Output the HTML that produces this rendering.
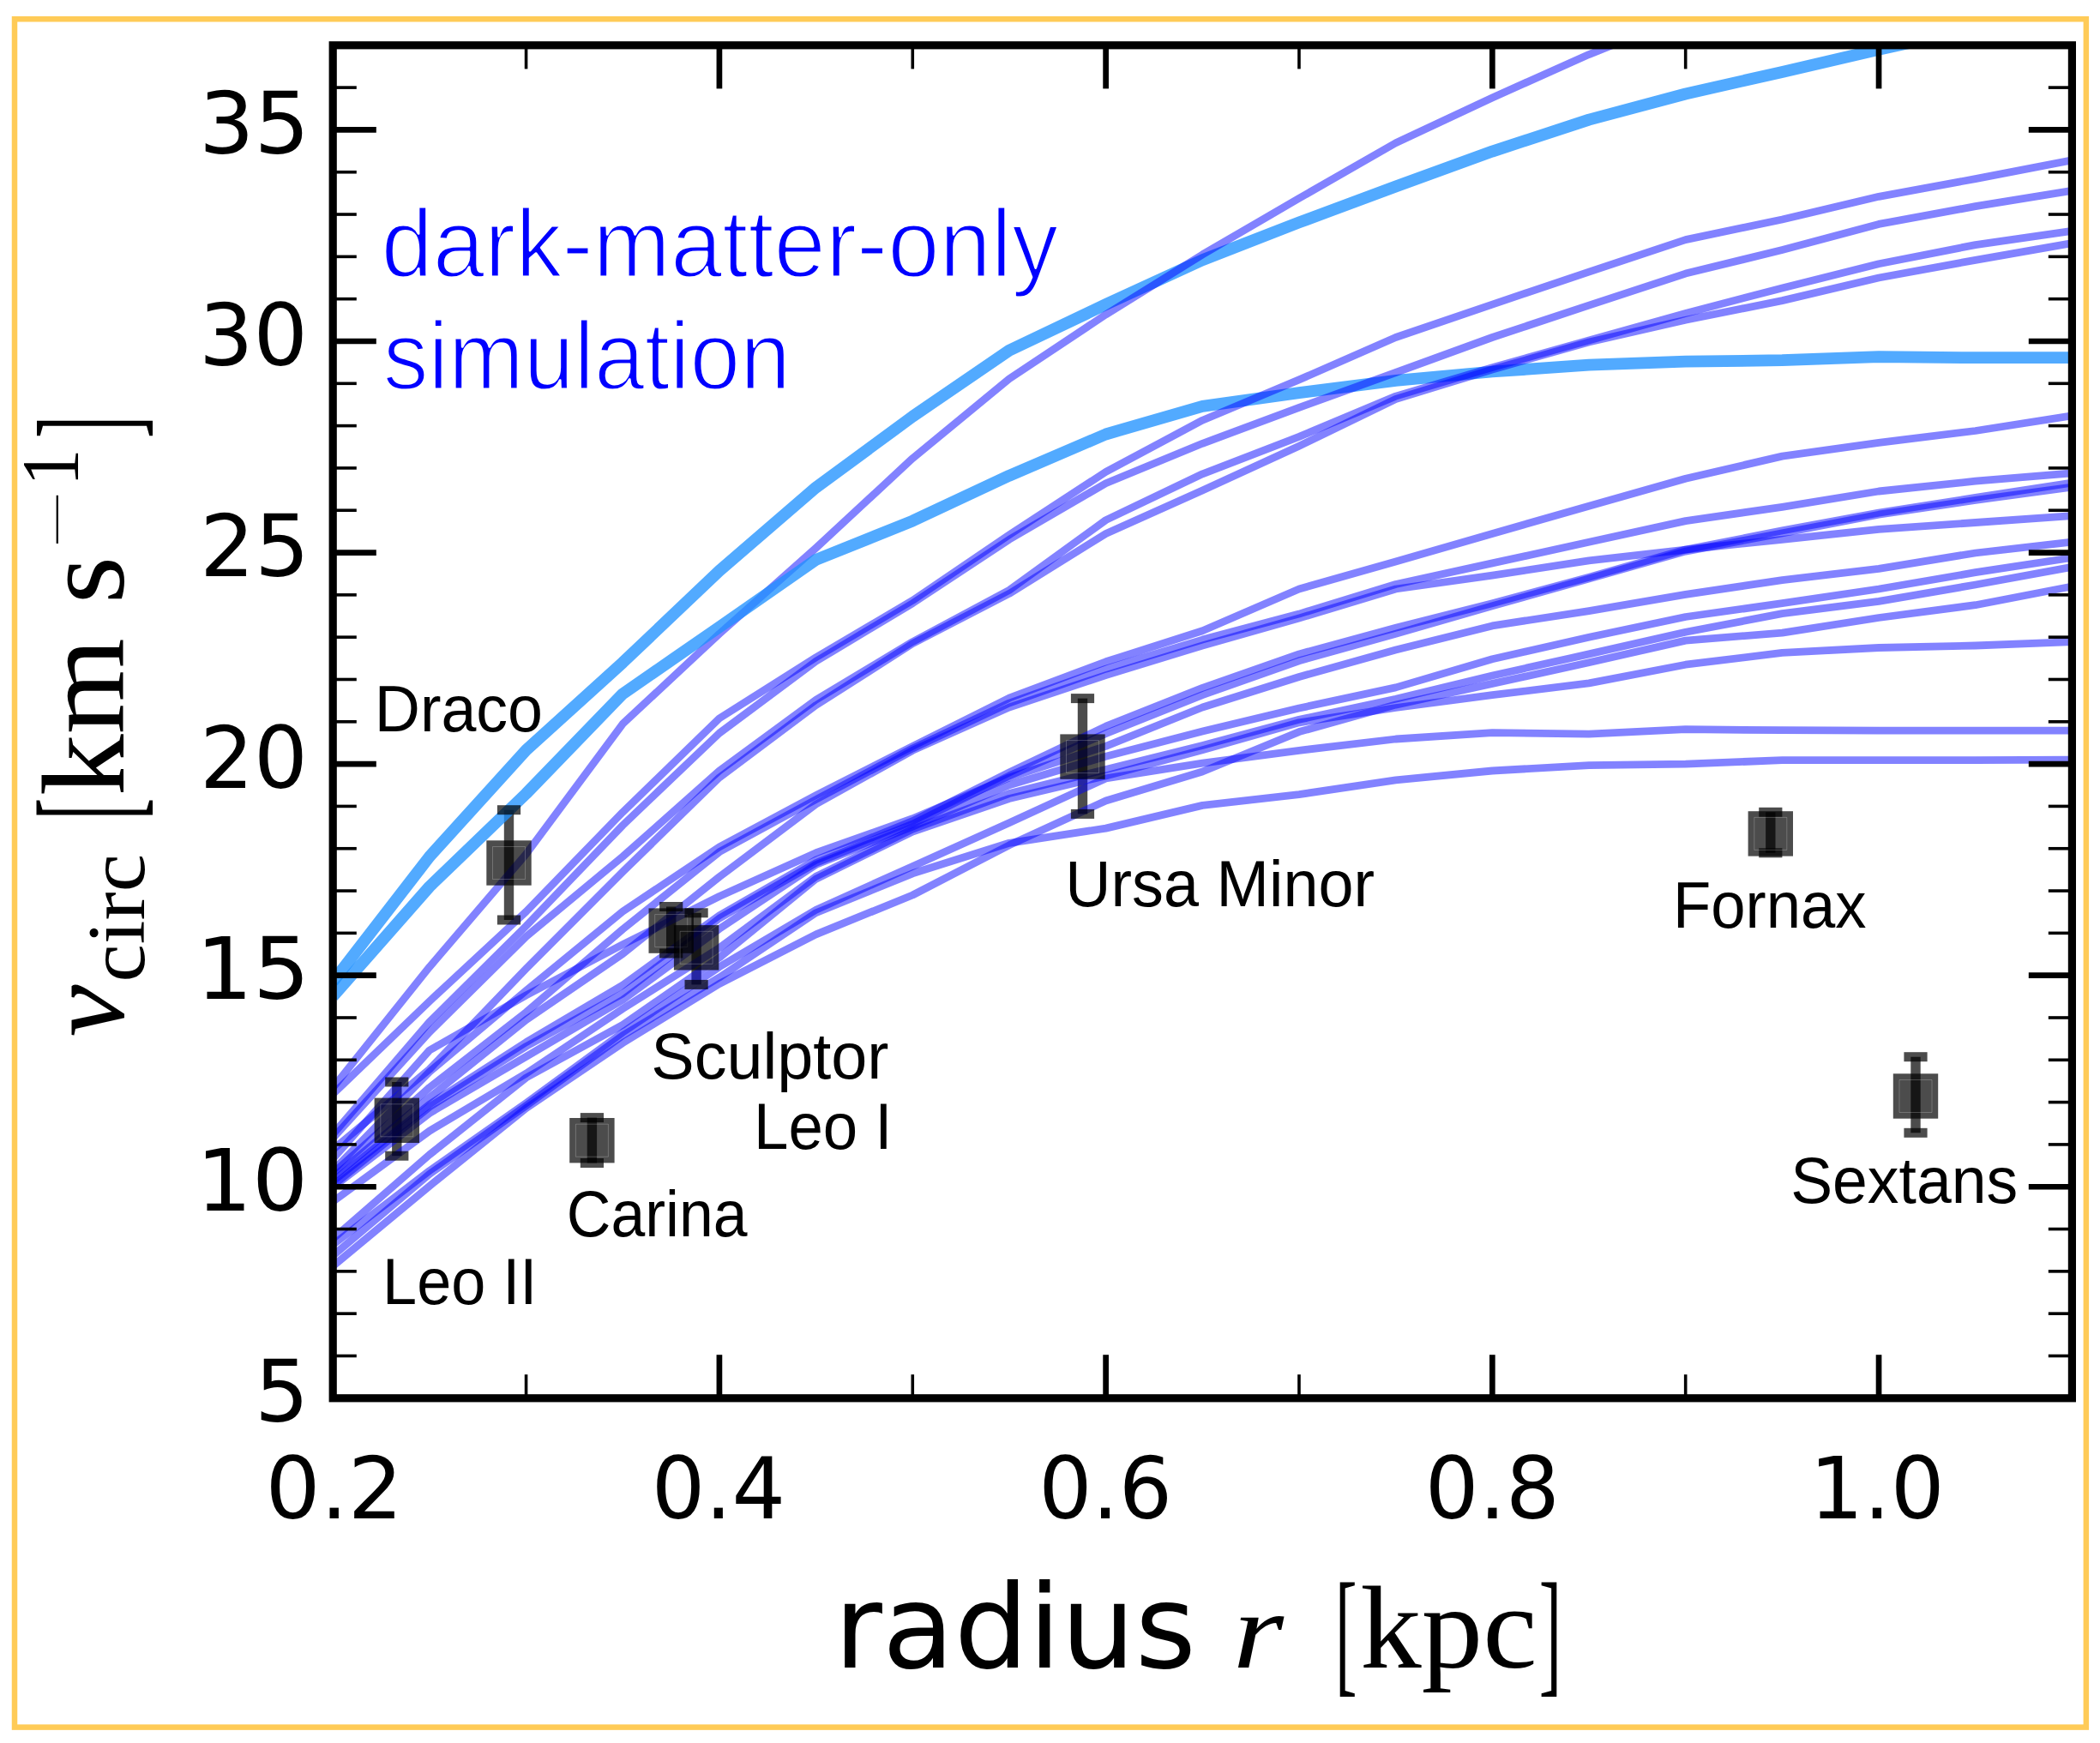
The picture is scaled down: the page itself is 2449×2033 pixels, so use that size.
<!DOCTYPE html>
<html lang="en"><head><meta charset="utf-8"><title>dark-matter-only simulation: circular velocity profiles</title>
<style>html,body{margin:0;padding:0;background:#fff}body{width:2449px;height:2033px;overflow:hidden}svg{display:block}</style></head><body>
<svg width="2449" height="2033" viewBox="0 0 2449 2033">
<rect x="0" y="0" width="2449" height="2033" fill="#fff"/>
<rect x="17.0" y="22.25" width="2415.85" height="1992.35" fill="none" stroke="#ffcb57" stroke-width="6.5"/>
<defs><clipPath id="ax"><rect x="388.2" y="52.8" width="2028.2" height="1578.0"/></clipPath></defs>
<g clip-path="url(#ax)" fill="none" stroke-linejoin="round" stroke-linecap="butt">
<g stroke="none" fill="#000" fill-opacity="0.7">
<rect x="587.8" y="944.7" width="11.4" height="128.3"/>
<rect x="457.1" y="1262.0" width="11.4" height="86.2"/>
<rect x="684.7" y="1303.6" width="11.4" height="52.9"/>
<rect x="777.0" y="1057.5" width="11.4" height="54.5"/>
<rect x="806.4" y="1064.8" width="11.4" height="83.6"/>
<rect x="1256.8" y="814.6" width="11.4" height="134.8"/>
<rect x="2059.1" y="947.3" width="11.4" height="47.5"/>
<rect x="2228.3" y="1232.7" width="11.4" height="88.6"/>
</g>
<path d="M388.2,1145.1 L500.9,999.1 L613.6,874.8 L726.2,772.8 L838.9,665.8 L951.6,568.6 L1064.3,485.8 L1176.9,408.8 L1289.6,355.1 L1402.3,303.3 L1515.0,259.4 L1627.7,217.5 L1740.3,176.6 L1853.0,139.6 L1965.7,109.5 L2078.4,83.9 L2191.0,57.7 L2303.7,33.1 L2416.4,8.4" stroke="#1e90ff" stroke-opacity="0.77" stroke-width="13.8"/>
<path d="M388.2,1268.8 L500.9,1127.8 L613.6,996.1 L726.2,844.3 L838.9,739.2 L951.6,639.1 L1064.3,534.6 L1176.9,441.9 L1289.6,366.9 L1402.3,296.9 L1515.0,231.3 L1627.7,166.7 L1740.3,113.9 L1853.0,63.6 L1965.7,18.3 L2078.4,-21.2 L2191.0,-55.7 L2303.7,-90.2 L2416.4,-119.8" stroke="#0000ff" stroke-opacity="0.49" stroke-width="8.8"/>
<path d="M388.2,1162.3 L500.9,1034.1 L613.6,925.6 L726.2,809.3 L838.9,731.3 L951.6,652.9 L1064.3,607.6 L1176.9,554.8 L1289.6,506.5 L1402.3,473.9 L1515.0,458.1 L1627.7,443.8 L1740.3,433.5 L1853.0,425.6 L1965.7,421.7 L2078.4,420.2 L2191.0,416.2 L2303.7,417.2 L2416.4,417.2" stroke="#1e90ff" stroke-opacity="0.77" stroke-width="13.8"/>
<path d="M388.2,1276.2 L500.9,1167.8 L613.6,1063.2 L726.2,947.3 L838.9,837.9 L951.6,766.8 L1064.3,700.3 L1176.9,623.8 L1289.6,550.4 L1402.3,490.2 L1515.0,442.9 L1627.7,393.5 L1740.3,355.1 L1853.0,317.1 L1965.7,279.6 L2078.4,256.0 L2191.0,229.3 L2303.7,208.6 L2416.4,186.9" stroke="#0000ff" stroke-opacity="0.49" stroke-width="8.8"/>
<path d="M388.2,1323.1 L500.9,1191.9 L613.6,1080.0 L726.2,962.6 L838.9,855.1 L951.6,771.3 L1064.3,703.7 L1176.9,629.3 L1289.6,563.7 L1402.3,517.3 L1515.0,475.4 L1627.7,434.5 L1740.3,393.5 L1853.0,356.1 L1965.7,319.1 L2078.4,291.5 L2191.0,261.4 L2303.7,240.7 L2416.4,222.4" stroke="#0000ff" stroke-opacity="0.49" stroke-width="8.8"/>
<path d="M388.2,1327.5 L500.9,1203.8 L613.6,1092.3 L726.2,999.1 L838.9,899.0 L951.6,816.2 L1064.3,748.6 L1176.9,688.4 L1289.6,606.6 L1402.3,552.8 L1515.0,509.4 L1627.7,462.1 L1740.3,428.6 L1853.0,397.0 L1965.7,365.4 L2078.4,335.9 L2191.0,307.7 L2303.7,285.6 L2416.4,269.3" stroke="#0000ff" stroke-opacity="0.49" stroke-width="8.8"/>
<path d="M388.2,1340.8 L500.9,1247.1 L613.6,1129.8 L726.2,1016.9 L838.9,906.9 L951.6,822.6 L1064.3,750.6 L1176.9,692.4 L1289.6,622.4 L1402.3,572.1 L1515.0,520.3 L1627.7,465.5 L1740.3,431.0 L1853.0,399.0 L1965.7,373.3 L2078.4,350.6 L2191.0,324.0 L2303.7,303.3 L2416.4,283.6" stroke="#0000ff" stroke-opacity="0.49" stroke-width="8.8"/>
<path d="M388.2,1365.5 L500.9,1250.1 L613.6,1155.4 L726.2,1063.2 L838.9,987.8 L951.6,927.6 L1064.3,870.4 L1176.9,814.2 L1289.6,771.8 L1402.3,735.8 L1515.0,687.0 L1627.7,654.9 L1740.3,622.4 L1853.0,590.3 L1965.7,558.3 L2078.4,532.1 L2191.0,516.3 L2303.7,502.5 L2416.4,484.8" stroke="#0000ff" stroke-opacity="0.49" stroke-width="8.8"/>
<path d="M388.2,1368.5 L500.9,1268.4 L613.6,1180.6 L726.2,1083.9 L838.9,993.7 L951.6,932.5 L1064.3,872.9 L1176.9,820.1 L1289.6,780.2 L1402.3,746.1 L1515.0,716.1 L1627.7,681.5 L1740.3,656.9 L1853.0,632.2 L1965.7,607.6 L2078.4,591.3 L2191.0,573.0 L2303.7,561.2 L2416.4,551.8" stroke="#0000ff" stroke-opacity="0.49" stroke-width="8.8"/>
<path d="M388.2,1377.8 L500.9,1288.1 L613.6,1215.6 L726.2,1149.0 L838.9,1067.7 L951.6,1003.1 L1064.3,957.7 L1176.9,901.0 L1289.6,847.2 L1402.3,802.3 L1515.0,762.9 L1627.7,732.3 L1740.3,703.7 L1853.0,673.2 L1965.7,641.1 L2078.4,618.9 L2191.0,598.2 L2303.7,580.4 L2416.4,563.2" stroke="#0000ff" stroke-opacity="0.49" stroke-width="8.8"/>
<path d="M388.2,1382.8 L500.9,1291.0 L613.6,1220.5 L726.2,1158.9 L838.9,1071.1 L951.6,1006.5 L1064.3,961.1 L1176.9,904.9 L1289.6,855.6 L1402.3,810.7 L1515.0,770.8 L1627.7,739.2 L1740.3,706.7 L1853.0,675.1 L1965.7,643.1 L2078.4,621.9 L2191.0,600.2 L2303.7,583.4 L2416.4,568.1" stroke="#0000ff" stroke-opacity="0.49" stroke-width="8.8"/>
<path d="M388.2,1373.4 L500.9,1280.2 L613.6,1189.5 L726.2,1112.5 L838.9,1022.8 L951.6,938.0 L1064.3,875.3 L1176.9,825.0 L1289.6,787.6 L1402.3,753.0 L1515.0,721.0 L1627.7,687.0 L1740.3,671.2 L1853.0,653.9 L1965.7,641.1 L2078.4,629.3 L2191.0,617.4 L2303.7,609.5 L2416.4,601.6" stroke="#0000ff" stroke-opacity="0.49" stroke-width="8.8"/>
<path d="M388.2,1351.7 L500.9,1225.0 L613.6,1160.9 L726.2,1101.7 L838.9,1045.5 L951.6,994.7 L1064.3,954.7 L1176.9,906.9 L1289.6,870.4 L1402.3,825.0 L1515.0,789.5 L1627.7,758.0 L1740.3,729.9 L1853.0,712.6 L1965.7,693.4 L2078.4,676.6 L2191.0,663.3 L2303.7,645.0 L2416.4,632.2" stroke="#0000ff" stroke-opacity="0.49" stroke-width="8.8"/>
<path d="M388.2,1384.7 L500.9,1298.4 L613.6,1232.4 L726.2,1166.3 L838.9,1083.4 L951.6,1008.5 L1064.3,964.1 L1176.9,915.8 L1289.6,882.2 L1402.3,853.1 L1515.0,826.0 L1627.7,801.9 L1740.3,768.8 L1853.0,743.2 L1965.7,719.5 L2078.4,703.7 L2191.0,687.0 L2303.7,667.7 L2416.4,650.5" stroke="#0000ff" stroke-opacity="0.49" stroke-width="8.8"/>
<path d="M388.2,1401.5 L500.9,1319.1 L613.6,1252.1 L726.2,1176.6 L838.9,1105.6 L951.6,1022.3 L1064.3,967.1 L1176.9,925.6 L1289.6,897.5 L1402.3,869.4 L1515.0,839.3 L1627.7,815.2 L1740.3,788.0 L1853.0,762.9 L1965.7,737.3 L2078.4,715.6 L2191.0,701.3 L2303.7,682.0 L2416.4,661.3" stroke="#0000ff" stroke-opacity="0.49" stroke-width="8.8"/>
<path d="M388.2,1476.9 L500.9,1383.3 L613.6,1292.5 L726.2,1216.6 L838.9,1147.5 L951.6,1089.8 L1064.3,1044.0 L1176.9,985.8 L1289.6,934.0 L1402.3,900.0 L1515.0,853.6 L1627.7,822.1 L1740.3,797.4 L1853.0,772.8 L1965.7,747.1 L2078.4,738.2 L2191.0,720.5 L2303.7,705.7 L2416.4,684.0" stroke="#0000ff" stroke-opacity="0.49" stroke-width="8.8"/>
<path d="M388.2,1444.9 L500.9,1346.8 L613.6,1257.0 L726.2,1195.4 L838.9,1117.0 L951.6,1025.2 L1064.3,970.0 L1176.9,931.5 L1289.6,904.9 L1402.3,874.8 L1515.0,842.8 L1627.7,825.5 L1740.3,810.7 L1853.0,796.9 L1965.7,775.2 L2078.4,761.4 L2191.0,755.5 L2303.7,753.0 L2416.4,748.6" stroke="#0000ff" stroke-opacity="0.49" stroke-width="8.8"/>
<path d="M388.2,1451.8 L500.9,1365.5 L613.6,1286.6 L726.2,1204.2 L838.9,1127.8 L951.6,1061.2 L1064.3,1010.4 L1176.9,959.7 L1289.6,907.9 L1402.3,890.1 L1515.0,875.3 L1627.7,862.0 L1740.3,854.6 L1853.0,856.1 L1965.7,850.7 L2078.4,851.7 L2191.0,852.2 L2303.7,852.2 L2416.4,852.2" stroke="#0000ff" stroke-opacity="0.49" stroke-width="8.8"/>
<path d="M388.2,1464.6 L500.9,1369.4 L613.6,1289.6 L726.2,1207.7 L838.9,1140.1 L951.6,1064.7 L1064.3,1018.8 L1176.9,983.3 L1289.6,966.1 L1402.3,939.4 L1515.0,926.6 L1627.7,909.9 L1740.3,899.0 L1853.0,892.6 L1965.7,891.1 L2078.4,886.7 L2191.0,886.7 L2303.7,886.7 L2416.4,886.2" stroke="#0000ff" stroke-opacity="0.49" stroke-width="8.8"/>
<g stroke="none" fill="#000" fill-opacity="0.7">
<rect x="579.9" y="939.2" width="27.2" height="11"/>
<rect x="579.9" y="1067.5" width="27.2" height="11"/>
<rect x="567.3" y="980.3" width="52.4" height="52.4"/>
<rect x="574.5" y="987.5" width="38" height="38" fill="none" stroke="#fff" stroke-opacity="0.28" stroke-width="0.8"/>
</g>
<g stroke="none" fill="#000" fill-opacity="0.7">
<rect x="449.2" y="1256.5" width="27.2" height="11"/>
<rect x="449.2" y="1342.7" width="27.2" height="11"/>
<rect x="436.6" y="1280.6" width="52.4" height="52.4"/>
<rect x="443.8" y="1287.8" width="38" height="38" fill="none" stroke="#fff" stroke-opacity="0.28" stroke-width="0.8"/>
</g>
<g stroke="none" fill="#000" fill-opacity="0.7">
<rect x="676.8" y="1298.1" width="27.2" height="11"/>
<rect x="676.8" y="1351.0" width="27.2" height="11"/>
<rect x="664.2" y="1304.0" width="52.4" height="52.4"/>
<rect x="671.4" y="1311.2" width="38" height="38" fill="none" stroke="#fff" stroke-opacity="0.28" stroke-width="0.8"/>
</g>
<g stroke="none" fill="#000" fill-opacity="0.7">
<rect x="769.1" y="1052.0" width="27.2" height="11"/>
<rect x="769.1" y="1106.5" width="27.2" height="11"/>
<rect x="756.5" y="1059.4" width="52.4" height="52.4"/>
<rect x="763.7" y="1066.6" width="38" height="38" fill="none" stroke="#fff" stroke-opacity="0.28" stroke-width="0.8"/>
</g>
<g stroke="none" fill="#000" fill-opacity="0.7">
<rect x="798.5" y="1059.3" width="27.2" height="11"/>
<rect x="798.5" y="1142.9" width="27.2" height="11"/>
<rect x="785.9" y="1079.1" width="52.4" height="52.4"/>
<rect x="793.1" y="1086.3" width="38" height="38" fill="none" stroke="#fff" stroke-opacity="0.28" stroke-width="0.8"/>
</g>
<g stroke="none" fill="#000" fill-opacity="0.7">
<rect x="1248.9" y="809.1" width="27.2" height="11"/>
<rect x="1248.9" y="943.9" width="27.2" height="11"/>
<rect x="1236.3" y="856.4" width="52.4" height="52.4"/>
<rect x="1243.5" y="863.6" width="38" height="38" fill="none" stroke="#fff" stroke-opacity="0.28" stroke-width="0.8"/>
</g>
<g stroke="none" fill="#000" fill-opacity="0.7">
<rect x="2051.2" y="941.8" width="27.2" height="11"/>
<rect x="2051.2" y="989.3" width="27.2" height="11"/>
<rect x="2038.6" y="946.2" width="52.4" height="52.4"/>
<rect x="2045.8" y="953.4" width="38" height="38" fill="none" stroke="#fff" stroke-opacity="0.28" stroke-width="0.8"/>
</g>
<g stroke="none" fill="#000" fill-opacity="0.7">
<rect x="2220.4" y="1227.2" width="27.2" height="11"/>
<rect x="2220.4" y="1315.8" width="27.2" height="11"/>
<rect x="2207.8" y="1252.3" width="52.4" height="52.4"/>
<rect x="2215.0" y="1259.5" width="38" height="38" fill="none" stroke="#fff" stroke-opacity="0.28" stroke-width="0.8"/>
</g>
</g>
<g stroke="#000" stroke-linecap="butt">
<line x1="388.2" y1="1581.49" x2="415.8" y2="1581.49" stroke-width="3.6"/>
<line x1="2416.4" y1="1581.49" x2="2388.8" y2="1581.49" stroke-width="3.6"/>
<line x1="388.2" y1="1532.17" x2="415.8" y2="1532.17" stroke-width="3.6"/>
<line x1="2416.4" y1="1532.17" x2="2388.8" y2="1532.17" stroke-width="3.6"/>
<line x1="388.2" y1="1482.86" x2="415.8" y2="1482.86" stroke-width="3.6"/>
<line x1="2416.4" y1="1482.86" x2="2388.8" y2="1482.86" stroke-width="3.6"/>
<line x1="388.2" y1="1433.55" x2="415.8" y2="1433.55" stroke-width="3.6"/>
<line x1="2416.4" y1="1433.55" x2="2388.8" y2="1433.55" stroke-width="3.6"/>
<line x1="388.2" y1="1384.24" x2="438.8" y2="1384.24" stroke-width="6.7"/>
<line x1="2416.4" y1="1384.24" x2="2365.8" y2="1384.24" stroke-width="6.7"/>
<line x1="388.2" y1="1334.92" x2="415.8" y2="1334.92" stroke-width="3.6"/>
<line x1="2416.4" y1="1334.92" x2="2388.8" y2="1334.92" stroke-width="3.6"/>
<line x1="388.2" y1="1285.61" x2="415.8" y2="1285.61" stroke-width="3.6"/>
<line x1="2416.4" y1="1285.61" x2="2388.8" y2="1285.61" stroke-width="3.6"/>
<line x1="388.2" y1="1236.30" x2="415.8" y2="1236.30" stroke-width="3.6"/>
<line x1="2416.4" y1="1236.30" x2="2388.8" y2="1236.30" stroke-width="3.6"/>
<line x1="388.2" y1="1186.99" x2="415.8" y2="1186.99" stroke-width="3.6"/>
<line x1="2416.4" y1="1186.99" x2="2388.8" y2="1186.99" stroke-width="3.6"/>
<line x1="388.2" y1="1137.67" x2="438.8" y2="1137.67" stroke-width="6.7"/>
<line x1="2416.4" y1="1137.67" x2="2365.8" y2="1137.67" stroke-width="6.7"/>
<line x1="388.2" y1="1088.36" x2="415.8" y2="1088.36" stroke-width="3.6"/>
<line x1="2416.4" y1="1088.36" x2="2388.8" y2="1088.36" stroke-width="3.6"/>
<line x1="388.2" y1="1039.05" x2="415.8" y2="1039.05" stroke-width="3.6"/>
<line x1="2416.4" y1="1039.05" x2="2388.8" y2="1039.05" stroke-width="3.6"/>
<line x1="388.2" y1="989.74" x2="415.8" y2="989.74" stroke-width="3.6"/>
<line x1="2416.4" y1="989.74" x2="2388.8" y2="989.74" stroke-width="3.6"/>
<line x1="388.2" y1="940.42" x2="415.8" y2="940.42" stroke-width="3.6"/>
<line x1="2416.4" y1="940.42" x2="2388.8" y2="940.42" stroke-width="3.6"/>
<line x1="388.2" y1="891.11" x2="438.8" y2="891.11" stroke-width="6.7"/>
<line x1="2416.4" y1="891.11" x2="2365.8" y2="891.11" stroke-width="6.7"/>
<line x1="388.2" y1="841.80" x2="415.8" y2="841.80" stroke-width="3.6"/>
<line x1="2416.4" y1="841.80" x2="2388.8" y2="841.80" stroke-width="3.6"/>
<line x1="388.2" y1="792.49" x2="415.8" y2="792.49" stroke-width="3.6"/>
<line x1="2416.4" y1="792.49" x2="2388.8" y2="792.49" stroke-width="3.6"/>
<line x1="388.2" y1="743.17" x2="415.8" y2="743.17" stroke-width="3.6"/>
<line x1="2416.4" y1="743.17" x2="2388.8" y2="743.17" stroke-width="3.6"/>
<line x1="388.2" y1="693.86" x2="415.8" y2="693.86" stroke-width="3.6"/>
<line x1="2416.4" y1="693.86" x2="2388.8" y2="693.86" stroke-width="3.6"/>
<line x1="388.2" y1="644.55" x2="438.8" y2="644.55" stroke-width="6.7"/>
<line x1="2416.4" y1="644.55" x2="2365.8" y2="644.55" stroke-width="6.7"/>
<line x1="388.2" y1="595.24" x2="415.8" y2="595.24" stroke-width="3.6"/>
<line x1="2416.4" y1="595.24" x2="2388.8" y2="595.24" stroke-width="3.6"/>
<line x1="388.2" y1="545.92" x2="415.8" y2="545.92" stroke-width="3.6"/>
<line x1="2416.4" y1="545.92" x2="2388.8" y2="545.92" stroke-width="3.6"/>
<line x1="388.2" y1="496.61" x2="415.8" y2="496.61" stroke-width="3.6"/>
<line x1="2416.4" y1="496.61" x2="2388.8" y2="496.61" stroke-width="3.6"/>
<line x1="388.2" y1="447.30" x2="415.8" y2="447.30" stroke-width="3.6"/>
<line x1="2416.4" y1="447.30" x2="2388.8" y2="447.30" stroke-width="3.6"/>
<line x1="388.2" y1="397.99" x2="438.8" y2="397.99" stroke-width="6.7"/>
<line x1="2416.4" y1="397.99" x2="2365.8" y2="397.99" stroke-width="6.7"/>
<line x1="388.2" y1="348.68" x2="415.8" y2="348.68" stroke-width="3.6"/>
<line x1="2416.4" y1="348.68" x2="2388.8" y2="348.68" stroke-width="3.6"/>
<line x1="388.2" y1="299.36" x2="415.8" y2="299.36" stroke-width="3.6"/>
<line x1="2416.4" y1="299.36" x2="2388.8" y2="299.36" stroke-width="3.6"/>
<line x1="388.2" y1="250.05" x2="415.8" y2="250.05" stroke-width="3.6"/>
<line x1="2416.4" y1="250.05" x2="2388.8" y2="250.05" stroke-width="3.6"/>
<line x1="388.2" y1="200.74" x2="415.8" y2="200.74" stroke-width="3.6"/>
<line x1="2416.4" y1="200.74" x2="2388.8" y2="200.74" stroke-width="3.6"/>
<line x1="388.2" y1="151.43" x2="438.8" y2="151.43" stroke-width="6.7"/>
<line x1="2416.4" y1="151.43" x2="2365.8" y2="151.43" stroke-width="6.7"/>
<line x1="388.2" y1="102.11" x2="415.8" y2="102.11" stroke-width="3.6"/>
<line x1="2416.4" y1="102.11" x2="2388.8" y2="102.11" stroke-width="3.6"/>
<line x1="613.56" y1="1630.8" x2="613.56" y2="1603.2" stroke-width="3.6"/>
<line x1="613.56" y1="52.8" x2="613.56" y2="80.4" stroke-width="3.6"/>
<line x1="838.91" y1="1630.8" x2="838.91" y2="1580.2" stroke-width="6.7"/>
<line x1="838.91" y1="52.8" x2="838.91" y2="103.4" stroke-width="6.7"/>
<line x1="1064.27" y1="1630.8" x2="1064.27" y2="1603.2" stroke-width="3.6"/>
<line x1="1064.27" y1="52.8" x2="1064.27" y2="80.4" stroke-width="3.6"/>
<line x1="1289.62" y1="1630.8" x2="1289.62" y2="1580.2" stroke-width="6.7"/>
<line x1="1289.62" y1="52.8" x2="1289.62" y2="103.4" stroke-width="6.7"/>
<line x1="1514.98" y1="1630.8" x2="1514.98" y2="1603.2" stroke-width="3.6"/>
<line x1="1514.98" y1="52.8" x2="1514.98" y2="80.4" stroke-width="3.6"/>
<line x1="1740.33" y1="1630.8" x2="1740.33" y2="1580.2" stroke-width="6.7"/>
<line x1="1740.33" y1="52.8" x2="1740.33" y2="103.4" stroke-width="6.7"/>
<line x1="1965.69" y1="1630.8" x2="1965.69" y2="1603.2" stroke-width="3.6"/>
<line x1="1965.69" y1="52.8" x2="1965.69" y2="80.4" stroke-width="3.6"/>
<line x1="2191.04" y1="1630.8" x2="2191.04" y2="1580.2" stroke-width="6.7"/>
<line x1="2191.04" y1="52.8" x2="2191.04" y2="103.4" stroke-width="6.7"/>
</g>
<rect x="388.2" y="52.8" width="2028.2" height="1578.0" fill="none" stroke="#000" stroke-width="9.2" stroke-linejoin="miter"/>
<text transform="translate(296.93,1658.40) scale(0.9957,1.0000)" style="font-family:'DejaVu Sans','Liberation Sans',sans-serif;font-size:100px;font-style:normal" fill="#000">5</text>
<text transform="translate(228.73,1411.84) scale(1.0248,1.0000)" style="font-family:'DejaVu Sans','Liberation Sans',sans-serif;font-size:100px;font-style:normal" fill="#000">10</text>
<text transform="translate(228.52,1165.27) scale(1.0439,1.0000)" style="font-family:'DejaVu Sans','Liberation Sans',sans-serif;font-size:100px;font-style:normal" fill="#000">15</text>
<text transform="translate(233.08,918.71) scale(0.9885,1.0000)" style="font-family:'DejaVu Sans','Liberation Sans',sans-serif;font-size:100px;font-style:normal" fill="#000">20</text>
<text transform="translate(232.96,672.15) scale(1.0063,1.0000)" style="font-family:'DejaVu Sans','Liberation Sans',sans-serif;font-size:100px;font-style:normal" fill="#000">25</text>
<text transform="translate(232.02,425.59) scale(0.9973,1.0000)" style="font-family:'DejaVu Sans','Liberation Sans',sans-serif;font-size:100px;font-style:normal" fill="#000">30</text>
<text transform="translate(231.88,179.03) scale(1.0155,1.0000)" style="font-family:'DejaVu Sans','Liberation Sans',sans-serif;font-size:100px;font-style:normal" fill="#000">35</text>
<text transform="translate(309.54,1770.80) scale(1.0085,1.0000)" style="font-family:'DejaVu Sans','Liberation Sans',sans-serif;font-size:100px;font-style:normal" fill="#000">0.2</text>
<text transform="translate(759.73,1770.80) scale(0.9837,1.0000)" style="font-family:'DejaVu Sans','Liberation Sans',sans-serif;font-size:100px;font-style:normal" fill="#000">0.4</text>
<text transform="translate(1211.16,1770.80) scale(0.9808,1.0000)" style="font-family:'DejaVu Sans','Liberation Sans',sans-serif;font-size:100px;font-style:normal" fill="#000">0.6</text>
<text transform="translate(1661.82,1770.80) scale(0.9876,1.0000)" style="font-family:'DejaVu Sans','Liberation Sans',sans-serif;font-size:100px;font-style:normal" fill="#000">0.8</text>
<text transform="translate(2110.35,1770.80) scale(0.9901,1.0000)" style="font-family:'DejaVu Sans','Liberation Sans',sans-serif;font-size:100px;font-style:normal" fill="#000">1.0</text>
<text transform="translate(444.47,323.20) scale(0.9862,1.0300)" style="font-family:'Liberation Sans','DejaVu Sans',sans-serif;font-size:110px;font-style:normal" fill="#0000ff" stroke="#fff" stroke-width="2.70" stroke-linejoin="round">dark-matter-only</text>
<text transform="translate(446.72,454.20) scale(0.9596,1.0300)" style="font-family:'Liberation Sans','DejaVu Sans',sans-serif;font-size:110px;font-style:normal" fill="#0000ff" stroke="#fff" stroke-width="2.70" stroke-linejoin="round">simulation</text>
<text transform="translate(436.85,852.80) scale(1.0075,1.0400)" style="font-family:'Liberation Sans','DejaVu Sans',sans-serif;font-size:73px;font-style:normal" fill="#000">Draco</text>
<text transform="translate(446.08,1521.20) scale(0.9865,1.0400)" style="font-family:'Liberation Sans','DejaVu Sans',sans-serif;font-size:73px;font-style:normal" fill="#000">Leo II</text>
<text transform="translate(660.78,1441.90) scale(0.9801,1.0400)" style="font-family:'Liberation Sans','DejaVu Sans',sans-serif;font-size:73px;font-style:normal" fill="#000">Carina</text>
<text transform="translate(759.26,1257.60) scale(1.0350,1.0400)" style="font-family:'Liberation Sans','DejaVu Sans',sans-serif;font-size:73px;font-style:normal" fill="#000">Sculptor</text>
<text transform="translate(879.03,1339.90) scale(0.9947,1.0400)" style="font-family:'Liberation Sans','DejaVu Sans',sans-serif;font-size:73px;font-style:normal" fill="#000">Leo I</text>
<text transform="translate(1242.23,1057.00) scale(1.0109,1.0400)" style="font-family:'Liberation Sans','DejaVu Sans',sans-serif;font-size:73px;font-style:normal" fill="#000">Ursa Minor</text>
<text transform="translate(1950.94,1082.00) scale(0.9927,1.0400)" style="font-family:'Liberation Sans','DejaVu Sans',sans-serif;font-size:73px;font-style:normal" fill="#000">Fornax</text>
<text transform="translate(2088.18,1402.50) scale(1.0047,1.0400)" style="font-family:'Liberation Sans','DejaVu Sans',sans-serif;font-size:73px;font-style:normal" fill="#000">Sextans</text>
<text transform="translate(972.86,1945.00) scale(1.0115,1.0000)" style="font-family:'DejaVu Sans','Liberation Sans',sans-serif;font-size:135px;font-style:normal" fill="#000">radius</text>
<text transform="translate(1437.83,1945.00) scale(1.1125,0.9266)" style="font-family:'Liberation Serif','DejaVu Serif',serif;font-size:137px;font-style:italic" fill="#000">r</text>
<text transform="translate(1557.09,1957.36) scale(0.5613,1.1798)" style="font-family:'Liberation Serif','DejaVu Serif',serif;font-size:137px;font-style:normal" fill="#000">[</text>
<text transform="translate(1586.27,1945.00) scale(1.0429,1.0000)" style="font-family:'Liberation Serif','DejaVu Serif',serif;font-size:137px;font-style:normal" fill="#000">kpc</text>
<text transform="translate(1794.80,1957.36) scale(0.5800,1.1798)" style="font-family:'Liberation Serif','DejaVu Serif',serif;font-size:137px;font-style:normal" fill="#000">]</text>
<g transform="translate(143.70,1208.20) rotate(-90)">
<text transform="translate(-1.31,0.00) scale(1.0034,0.9571)" style="font-family:'Liberation Serif','DejaVu Serif',serif;font-size:137px;font-style:italic" fill="#000">v</text>
<text transform="translate(62.75,23.80) scale(1.0380,1.0000)" style="font-family:'Liberation Serif','DejaVu Serif',serif;font-size:96px;font-style:normal" fill="#000">circ</text>
<text transform="translate(251.99,11.87) scale(0.5613,1.1904)" style="font-family:'Liberation Serif','DejaVu Serif',serif;font-size:137px;font-style:normal" fill="#000">[</text>
<text transform="translate(279.95,0.00) scale(1.0512,1.0000)" style="font-family:'Liberation Serif','DejaVu Serif',serif;font-size:137px;font-style:normal" fill="#000">km</text>
<text transform="translate(503.96,0.00) scale(1.0405,1.0000)" style="font-family:'Liberation Serif','DejaVu Serif',serif;font-size:137px;font-style:normal" fill="#000">s</text>
<text transform="translate(567.61,-61.58) scale(1.2578,0.4800)" style="font-family:'Liberation Serif','DejaVu Serif',serif;font-size:96px;font-style:normal" fill="#000">−</text>
<text transform="translate(641.40,-52.70) scale(0.9000,1.0000)" style="font-family:'Liberation Serif','DejaVu Serif',serif;font-size:96px;font-style:normal" fill="#000">1</text>
<text transform="translate(697.15,11.87) scale(0.5700,1.1904)" style="font-family:'Liberation Serif','DejaVu Serif',serif;font-size:137px;font-style:normal" fill="#000">]</text>
</g>
</svg></body></html>
